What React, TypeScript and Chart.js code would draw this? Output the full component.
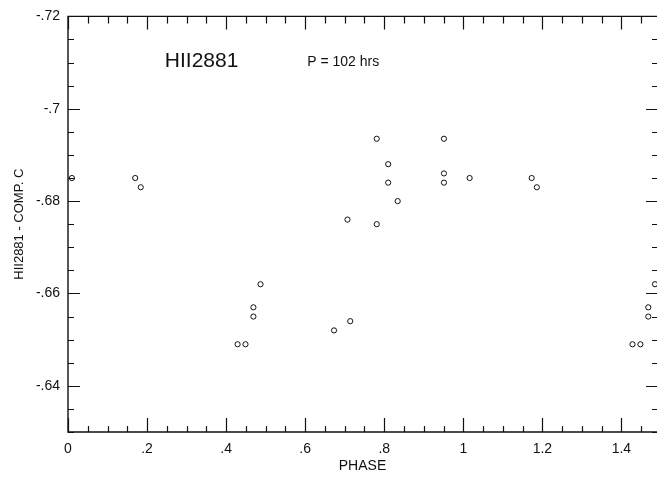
import React, { useEffect, useRef } from 'react';
import { Chart, registerables } from 'chart.js';

Chart.register(...registerables);

// ---- data ----
const phase = [
  0.01, 0.17, 0.184, 0.429, 0.449, 0.469, 0.469, 0.487, 0.673, 0.707, 0.714,
  0.781, 0.781, 0.81, 0.81, 0.834, 0.951, 0.951, 0.951, 1.016, 1.173, 1.186,
  1.428, 1.448, 1.468, 1.468, 1.485,
];
const deltaMag = [
  -0.685, -0.685, -0.683, -0.649, -0.649, -0.657, -0.655, -0.662, -0.652, -0.676, -0.654,
  -0.6935, -0.675, -0.688, -0.684, -0.680, -0.6935, -0.686, -0.684, -0.685, -0.685, -0.683,
  -0.649, -0.649, -0.657, -0.655, -0.662,
];

const xTickValues = [0, 0.2, 0.4, 0.6, 0.8, 1, 1.2, 1.4];
const xTickLabels = ['0', '.2', '.4', '.6', '.8', '1', '1.2', '1.4'];
const yTickValues = [-0.72, -0.7, -0.68, -0.66, -0.64];
const yTickLabels = ['-.72', '-.7', '-.68', '-.66', '-.64'];

const X_MIN = 0;
const X_MAX = 1.49;
const Y_MIN = -0.72;
const Y_MAX = -0.63;
const X_MINOR = 0.05;
const Y_MINOR = 0.005;

const starName = 'HII2881';
const periodText = 'P = 102 hrs';
const starNamePos = { x: 0.245, y: -0.7102 };
const periodPos = { x: 0.605, y: -0.7102 };
const xTitle = 'PHASE';
const yTitle = 'HII2881 - COMP. C';

const FONT = '"Liberation Sans", Arial, Helvetica, sans-serif';
const INK = '#111111';

const framePlugin = {
  id: 'frameTicks',
  afterDraw(chart: any) {
    const { ctx, chartArea } = chart;
    const xs = chart.scales.x;
    const ys = chart.scales.y;
    const { left, right, top, bottom } = chartArea;
    ctx.save();
    ctx.strokeStyle = INK;
    ctx.lineWidth = 1.4;
    ctx.beginPath();
    ctx.moveTo(right, top);
    ctx.lineTo(left, top);
    ctx.lineTo(left, bottom);
    ctx.lineTo(right, bottom);
    ctx.stroke();

    ctx.lineWidth = 1.2;
    // x ticks
    const nx = Math.round((X_MAX - X_MIN) / X_MINOR);
    for (let i = 0; i <= nx; i++) {
      const v = X_MIN + i * X_MINOR;
      if (v > X_MAX + 1e-9) break;
      const px = Math.round(xs.getPixelForValue(v)) + 0.5;
      const major = Math.abs(v / 0.2 - Math.round(v / 0.2)) < 1e-6;
      const lb = major ? 14 : 6;
      const lt = major ? 13 : 7;
      ctx.beginPath();
      ctx.moveTo(px, bottom);
      ctx.lineTo(px, bottom - lb);
      ctx.moveTo(px, top);
      ctx.lineTo(px, top + lt);
      ctx.stroke();
    }
    // y ticks
    const ny = Math.round((Y_MAX - Y_MIN) / Y_MINOR);
    for (let i = 0; i <= ny; i++) {
      const v = Y_MIN + i * Y_MINOR;
      const py = Math.round(ys.getPixelForValue(v)) + 0.5;
      const major = Math.abs(v / 0.02 - Math.round(v / 0.02)) < 1e-6;
      const ll = major ? 12 : 6;
      const lr = major ? 11 : 5;
      ctx.beginPath();
      ctx.moveTo(left, py);
      ctx.lineTo(left + ll, py);
      ctx.moveTo(right, py);
      ctx.lineTo(right - lr, py);
      ctx.stroke();
    }

    // annotations
    ctx.fillStyle = INK;
    ctx.textBaseline = 'middle';
    ctx.textAlign = 'left';
    ctx.font = `21px ${FONT}`;
    ctx.fillText(starName, xs.getPixelForValue(starNamePos.x), ys.getPixelForValue(starNamePos.y));
    ctx.font = `14px ${FONT}`;
    ctx.fillText(periodText, xs.getPixelForValue(periodPos.x), ys.getPixelForValue(periodPos.y));
    ctx.restore();
  },
};

export default function App() {
  const ref = useRef<HTMLCanvasElement | null>(null);

  useEffect(() => {
    if (!ref.current) return;
    const chart = new Chart(ref.current, {
      type: 'scatter',
      data: {
        datasets: [
          {
            data: phase.map((p, i) => ({ x: p, y: deltaMag[i] })),
            pointStyle: 'circle',
            pointRadius: 2.6,
            pointBorderWidth: 1,
            borderColor: INK,
            backgroundColor: 'rgba(255,255,255,0)',
            clip: false as any,
          },
        ],
      },
      options: {
        responsive: false,
        animation: false,
        events: [],
        layout: { autoPadding: false, padding: { left: 0, right: 0, top: 15, bottom: 0 } },
        plugins: {
          legend: { display: false },
          tooltip: { enabled: false },
          title: { display: false },
        },
        scales: {
          x: {
            type: 'linear',
            min: X_MIN,
            max: X_MAX,
            grid: { display: false, drawTicks: false },
            border: { display: false },
            afterBuildTicks: (s: any) => {
              s.ticks = xTickValues.map((v) => ({ value: v }));
            },
            afterFit: (s: any) => {
              s.height = 47;
            },
            ticks: {
              padding: 9,
              color: INK,
              maxRotation: 0,
              autoSkip: false,
              font: { family: FONT, size: 14 },
              callback: (_v: any, i: number) => xTickLabels[i],
            },
            title: {
              display: true,
              text: xTitle,
              color: INK,
              font: { family: FONT, size: 14 },
              padding: { top: 0, bottom: 4 },
            },
          },
          y: {
            type: 'linear',
            min: Y_MIN,
            max: Y_MAX,
            reverse: true,
            grid: { display: false, drawTicks: false },
            border: { display: false },
            afterBuildTicks: (s: any) => {
              s.ticks = yTickValues.map((v) => ({ value: v }));
            },
            afterFit: (s: any) => {
              s.width = 68;
            },
            ticks: {
              padding: 8,
              color: INK,
              autoSkip: false,
              font: { family: FONT, size: 14 },
              callback: (_v: any, i: number) => yTickLabels[i],
            },
            title: {
              display: true,
              text: yTitle,
              color: INK,
              font: { family: FONT, size: 13 },
              padding: { top: 12, bottom: 0 },
            },
          },
        },
      },
      plugins: [framePlugin],
    });
    return () => chart.destroy();
  }, []);

  return (
    <div style={{ position: 'absolute', left: 0, top: 0, width: 657, height: 479, background: '#fff' }}>
      <canvas ref={ref} width={657} height={479} style={{ display: 'block' }} />
    </div>
  );
}
